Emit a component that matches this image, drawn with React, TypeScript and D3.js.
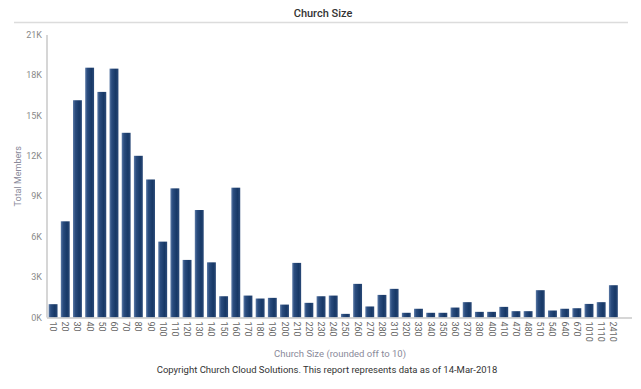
import React, { useEffect, useRef } from 'react'
import * as d3 from 'd3'

const sizes = ['10', '20', '30', '40', '50', '60', '70', '80', '90', '100', '110', '120', '130', '140', '150', '160',
    '170', '180', '190', '200', '210', '220', '230', '240', '250', '260', '270', '280', '310', '320', '330', '340',
    '350', '360', '370', '380', '400', '410', '470', '480', '510', '540', '640', '670', '1010', '1110', '2410']

const members = [990, 7150, 16150, 18570, 16770, 18500, 13730, 12020, 10260, 5640, 9600, 4280, 7990, 4100, 1580, 9650,
    1630, 1410, 1460, 960, 4060, 1090, 1580, 1630, 270, 2500, 820, 1680, 2130, 350, 650, 350,
    350, 740, 1140, 420, 420, 790, 470, 470, 2030, 520, 650, 690, 1010, 1140, 2400]

const yTicks = [0, 3000, 6000, 9000, 12000, 15000, 18000, 21000]

const W = 641
const H = 389
const font = 'Roboto, "Open Sans", sans-serif'

const App = () => {
    const ref = useRef<SVGSVGElement>(null)

    useEffect(() => {
        const svg = d3.select(ref.current)
        svg.selectAll('*').remove()

        const margin = { top: 35, right: 21, bottom: 71, left: 47 }

        const defs = svg.append('defs')
        const grad = defs.append('linearGradient').attr('id', 'barGrad')
            .attr('x1', '0%').attr('x2', '100%').attr('y1', '0%').attr('y2', '0%')
        grad.append('stop').attr('offset', '0%').attr('stop-color', '#5c7aa6')
        grad.append('stop').attr('offset', '25%').attr('stop-color', '#2a4c7e')
        grad.append('stop').attr('offset', '70%').attr('stop-color', '#173866')
        grad.append('stop').attr('offset', '100%').attr('stop-color', '#2b4a78')

        // title
        svg.append('text')
            .attr('x', 323).attr('y', 17)
            .attr('text-anchor', 'middle')
            .attr('font-family', font).attr('font-size', 11).attr('font-weight', 500)
            .attr('fill', '#333')
            .text('Church Size')

        svg.append('line')
            .attr('x1', 14).attr('x2', 628).attr('y1', 22.5).attr('y2', 22.5)
            .attr('stroke', '#dcdcdc').attr('stroke-width', 1.5)

        const x = d3.scaleBand()
            .domain(sizes)
            .range([margin.left, margin.left + 47 * 12.18])
            .paddingInner(0.27)
            .paddingOuter(0.135)
        const y = d3.scaleLinear().domain([0, 21000]).range([H - margin.bottom - 0.5, margin.top])

        const g = svg.append('g')

        // y axis
        g.append('line')
            .attr('x1', margin.left).attr('x2', margin.left)
            .attr('y1', y(21000)).attr('y2', y(0))
            .attr('stroke', '#c8c8c8').attr('stroke-width', 1.5)

        g.selectAll('.ytick')
            .data(yTicks)
            .enter()
            .append('text')
            .attr('class', 'ytick')
            .attr('x', margin.left - 5)
            .attr('y', d => y(d) + 3)
            .attr('text-anchor', 'end')
            .attr('font-family', font).attr('font-size', 9)
            .attr('fill', '#8a8a8a')
            .text(d => (d / 1000) + 'K')

        g.append('text')
            .attr('transform', 'translate(21,' + ((y(0) + y(21000)) / 2) + ') rotate(-90)')
            .attr('text-anchor', 'middle')
            .attr('font-family', font).attr('font-size', 9)
            .attr('fill', '#8a8a9a')
            .text('Total Members')

        // bars
        g.selectAll('.bar')
            .data(members)
            .enter()
            .append('rect')
            .attr('class', 'bar')
            .attr('x', (d, i) => x(sizes[i]) as number)
            .attr('width', x.bandwidth())
            .attr('y', d => y(d))
            .attr('height', d => y(0) - y(d))
            .attr('fill', 'url(#barGrad)')

        // x baseline
        g.append('line')
            .attr('x1', margin.left).attr('x2', 632)
            .attr('y1', y(0) + 0.5).attr('y2', y(0) + 0.5)
            .attr('stroke', '#c8c8c8').attr('stroke-width', 1.5)

        g.selectAll('.xtick')
            .data(sizes)
            .enter()
            .append('text')
            .attr('class', 'xtick')
            .attr('transform', d => 'translate(' + ((x(d) as number) + x.bandwidth() / 2 - 3) + ',' + (y(0) + 4) + ') rotate(90)')
            .attr('text-anchor', 'start')
            .attr('font-family', font).attr('font-size', 9)
            .attr('fill', '#666')
            .text(d => d)

        svg.append('text')
            .attr('x', 340).attr('y', 357)
            .attr('text-anchor', 'middle')
            .attr('font-family', font).attr('font-size', 9.5)
            .attr('fill', '#8a8a9a')
            .text('Church Size (rounded off to 10)')

        svg.append('text')
            .attr('x', 327).attr('y', 373)
            .attr('text-anchor', 'middle')
            .attr('font-family', font).attr('font-size', 9.5)
            .attr('fill', '#333')
            .text('Copyright Church Cloud Solutions. This report represents data as of 14-Mar-2018')
    }, [])

    return (
        <svg ref={ref} width={W} height={H} style={{ position: 'absolute', left: 0, top: 0, background: '#fff' }} />
    )
}

export default App
